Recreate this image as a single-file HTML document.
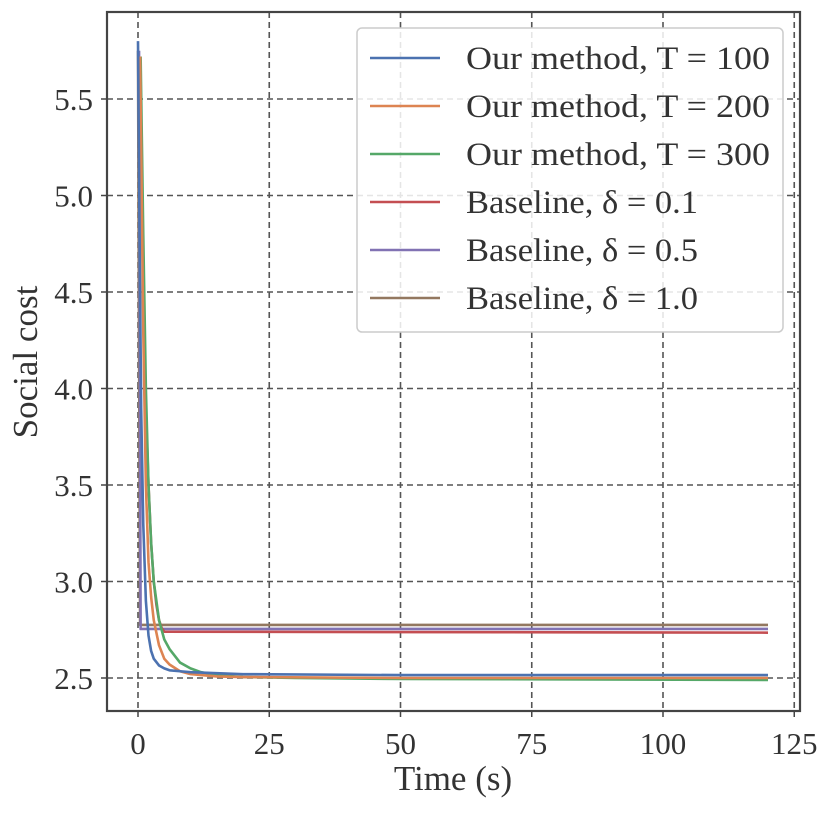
<!DOCTYPE html>
<html><head><meta charset="utf-8"><style>
body{margin:0;background:#fff;}
svg text{font-family:"Liberation Serif",serif;fill:#333;}
</style></head><body>
<svg id="c" width="831" height="812" viewBox="0 0 831 812"></svg>
<script>
const xTicks=[0,25,50,75,100,125];
const yTicks=[2.5,3.0,3.5,4.0,4.5,5.0,5.5];
const seriesNames=["Our method, T = 100","Our method, T = 200","Our method, T = 300","Baseline, δ = 0.1","Baseline, δ = 0.5","Baseline, δ = 1.0"];
const seriesColors=["#4c72b0","#dd8452","#55a868","#c44e52","#8172b3","#937860"];
const t100=[0,0.3,0.6,1,1.5,2,2.5,3,4,5,6,8,10,15,20,50,120];
const v100=[5.8,4.8,3.9,3.3,2.9,2.72,2.64,2.6,2.565,2.55,2.54,2.535,2.53,2.525,2.52,2.515,2.515];
const t200=[0.4,1,1.5,2,2.5,3,4,5,6,8,10,15,20,50,120];
const v200=[5.72,4.3,3.5,3.1,2.92,2.8,2.67,2.6,2.57,2.535,2.52,2.508,2.505,2.5,2.5];
const t300=[0.5,1,1.5,2,2.5,3,4,5,6,8,10,12,15,20,30,50,120];
const v300=[5.72,4.8,4.0,3.5,3.2,3.0,2.8,2.7,2.65,2.58,2.55,2.53,2.515,2.505,2.5,2.495,2.49];
const tB01=[0.3,1,1.5,2,2.5,3,3.5,4,4.5,5,120];
const vB01=[5.7,4.5,3.9,3.5,3.2,3.0,2.88,2.8,2.76,2.74,2.735];
const tB05=[0.2,0.5,120];
const vB05=[5.75,2.754,2.754];
const tB10=[0,0.4,120];
const vB10=[5.75,2.775,2.775];
const allT=[t100,t200,t300,tB01,tB05,tB10];
const allV=[v100,v200,v300,vB01,vB05,vB10];

const L=107,R=800,T=12,B=711;
const X=v=>138+v*(663-138)/100;
const Y=v=>678-(v-2.5)*193;
const svg=document.getElementById('c');
const NS="http://www.w3.org/2000/svg";
function mk(tag,at,parent){const e=document.createElementNS(NS,tag);for(const k in at)e.setAttribute(k,at[k]);(parent||svg).appendChild(e);return e;}

xTicks.forEach(v=>{
  const g=mk('line',{x1:X(v),x2:X(v),y1:T,y2:B,stroke:'#555','stroke-width':1.6,'stroke-dasharray':'6,4'});
  
  
  const tk=mk('line',{x1:X(v),x2:X(v),y1:B,y2:B+6,stroke:'#444','stroke-width':1.5});
  
  
  const t=mk('text',{x:X(v),y:B+43,'font-size':31,'text-anchor':'middle'});t.textContent=v;
  
  
});
yTicks.forEach(v=>{
  const g=mk('line',{x1:L,x2:R,y1:Y(v),y2:Y(v),stroke:'#555','stroke-width':1.6,'stroke-dasharray':'6,4'});
  
  
  const tk=mk('line',{x1:L-6,x2:L,y1:Y(v),y2:Y(v),stroke:'#444','stroke-width':1.5});
  
  
  const t=mk('text',{x:93,y:Y(v)+11,'font-size':31,'text-anchor':'end'});t.textContent=v.toFixed(1);
  
  
});
for(let i=allT.length-1;i>=0;i--){
  const pts=allT[i].map((t,j)=>X(t)+','+Y(allV[i][j])).join(' ');
  const p=mk('polyline',{points:pts,fill:'none',stroke:seriesColors[i],'stroke-width':2.6,'stroke-linejoin':'round'});
  
  
}
const frame=mk('rect',{x:L,y:T,width:R-L,height:B-T,fill:'none',stroke:'#444','stroke-width':2.2});



const lg=mk('g',{});


mk('rect',{x:357,y:28,width:426,height:304,rx:5,fill:'rgba(255,255,255,0.85)',stroke:'#ccc','stroke-width':1.5},lg);
seriesNames.forEach((n,i)=>{
  const y=58+i*48;
  const ln=mk('line',{x1:370,x2:440,y1:y,y2:y,stroke:seriesColors[i],'stroke-width':2.6},lg);
  
  
  const t=mk('text',{x:466,y:y+11,'font-size':33,textLength:304,lengthAdjust:'spacingAndGlyphs'},lg);t.textContent=n;
  if(i>=3){t.setAttribute('textLength',232);}
  
  
});
const xl=mk('text',{x:453,y:790,'font-size':35,'text-anchor':'middle'});xl.textContent='Time (s)';


const yl=mk('text',{x:0,y:0,'font-size':35,'text-anchor':'middle',transform:'translate(37,362) rotate(-90)'});yl.textContent='Social cost';


</script>
</body></html>
